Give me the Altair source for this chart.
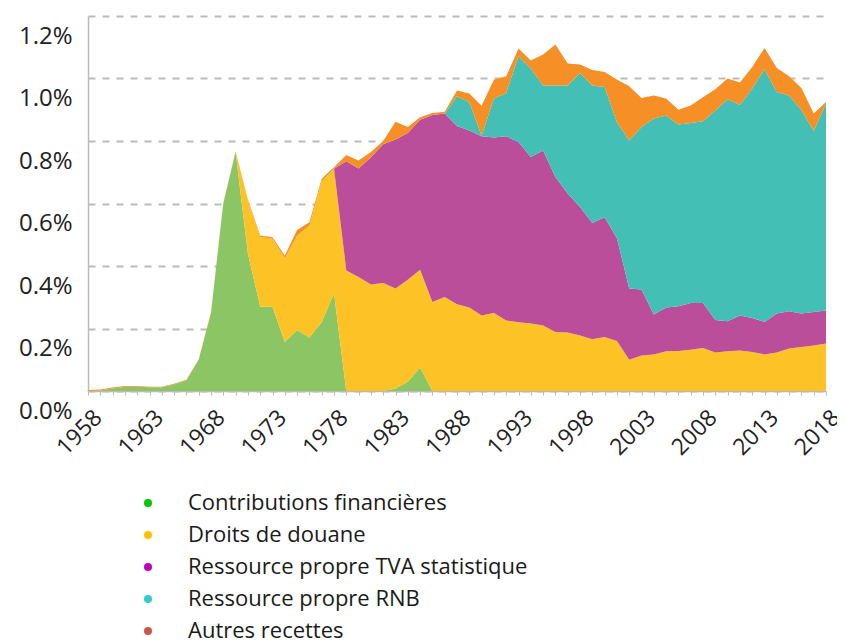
import altair as alt
import pandas as pd

years = list(range(1958, 2019))

contributions = [
    0.000, 0.002, 0.008, 0.014, 0.014, 0.012, 0.012, 0.021, 0.034, 0.100,
    0.250, 0.600, 0.765, 0.440, 0.270, 0.270, 0.157, 0.195, 0.171, 0.220,
    0.313, 0.000, 0.000, 0.000, 0.000, 0.008, 0.030, 0.075,
] + [0.0] * 33

douane = [0.0] * 13 + [
    0.170, 0.224, 0.217, 0.268, 0.302, 0.359, 0.452, 0.398, 0.386, 0.365,
    0.341, 0.346, 0.320, 0.326, 0.313, 0.285, 0.301, 0.278, 0.267, 0.242,
    0.250, 0.226, 0.220, 0.216, 0.210, 0.189, 0.187, 0.178, 0.166, 0.173,
    0.160, 0.100, 0.114, 0.117, 0.127, 0.128, 0.132, 0.138, 0.123, 0.127,
    0.130, 0.125, 0.117, 0.123, 0.136, 0.141, 0.146, 0.152,
]

tva = [0.0] * 21 + [
    0.349, 0.347, 0.407, 0.444, 0.477, 0.470, 0.480, 0.598, 0.587, 0.570,
    0.567, 0.573, 0.561, 0.589, 0.577, 0.533, 0.560, 0.496, 0.445, 0.411,
    0.372, 0.383, 0.330, 0.228, 0.211, 0.128, 0.140, 0.143, 0.150, 0.144,
    0.104, 0.096, 0.112, 0.109, 0.104, 0.125, 0.119, 0.107, 0.107, 0.106,
]

rnb = [0.0] * 30 + [
    0.095, 0.091, 0.002, 0.125, 0.139, 0.274, 0.283, 0.208, 0.293, 0.346,
    0.429, 0.440, 0.417, 0.371, 0.474, 0.520, 0.627, 0.615, 0.582, 0.576,
    0.581, 0.671, 0.711, 0.673, 0.734, 0.809, 0.709, 0.691, 0.651, 0.579,
    0.662,
]

autres = [
    0.003, 0.003, 0.003, 0.002, 0.002, 0.002, 0.002, 0.002, 0.002, 0.002,
    0.002, 0.002, 0.002, 0.003, 0.004, 0.005, 0.008, 0.018, 0.010, 0.007,
    0.005, 0.020, 0.026, 0.017, 0.010, 0.057, 0.019, 0.008, 0.007, 0.006,
    0.019, 0.027, 0.096, 0.060, 0.053, 0.025, 0.026, 0.099, 0.131, 0.070,
    0.027, 0.049, 0.048, 0.136, 0.173, 0.093, 0.074, 0.054, 0.047, 0.056,
    0.077, 0.068, 0.066, 0.072, 0.069, 0.068, 0.077, 0.061, 0.071, 0.056,
    0.005,
]

series_names = [
    "Contributions financières",
    "Droits de douane",
    "Ressource propre TVA statistique",
    "Ressource propre RNB",
    "Autres recettes",
]
area_colors = ["#8CC664", "#FCC226", "#BB4E9B", "#44BFB5", "#F58F26"]
legend_colors = ["#00C800", "#FFC000", "#C000C0", "#33CCCC", "#C8564B"]
y_ticks = [0.0, 0.2, 0.4, 0.6, 0.8, 1.0, 1.2]

rows = []
for i, (name, vals) in enumerate(zip(series_names, [contributions, douane, tva, rnb, autres])):
    for yr, v in zip(years, vals):
        rows.append({"year": yr, "value": v, "series": name, "order": i})
df = pd.DataFrame(rows)

legend_df = pd.DataFrame({"series": series_names, "color": legend_colors})

x_enc = alt.X(
    "year:Q",
    scale=alt.Scale(domain=[1958, 2018], nice=False, zero=False),
    axis=alt.Axis(
        values=years,
        labelExpr="(datum.value - 1958) % 5 == 0 ? datum.value + '' : ''",
        labelAngle=-45,
        labelAlign="right",
        labelBaseline="top",
        labelOffset=2,
        labelPadding=11,
        labelOverlap=False,
        labelFont="Open Sans",
        labelFontSize=23,
        labelColor="#222222",
        tickSize=4,
        tickColor="#BBBBBB",
        domainColor="#BBBBBB",
        domainWidth=1.5,
        grid=False,
        title=None,
    ),
)

y_enc = alt.Y(
    "value:Q",
    stack="zero",
    scale=alt.Scale(domain=[0, 1.2], nice=False),
    axis=alt.Axis(
        values=y_ticks,
        labelExpr="format(datum.value, '.1f') + '%'",
        labelFont="Open Sans",
        labelFontSize=24,
        labelColor="#222222",
        labelPadding=16,
        labelOffset=20,
        tickSize=0,
        domainColor="#BBBBBB",
        domainWidth=1.5,
        grid=True,
        gridDash=[7, 7],
        gridColor="#BBBBBB",
        gridWidth=2,
        title=None,
    ),
)

areas = (
    alt.Chart(df)
    .mark_area(interpolate="linear")
    .encode(
        x=x_enc,
        y=y_enc,
        color=alt.Color(
            "series:N",
            scale=alt.Scale(domain=series_names, range=area_colors),
            legend=None,
        ),
        order=alt.Order("order:Q"),
    )
)

# hand-made legend below the plot (dot colours differ from the area colours)
legend_y = alt.Y(
    "series:N",
    sort=series_names,
    scale=alt.Scale(type="point", domain=series_names, range=[487, 615], padding=0),
    axis=None,
)
legend_dots = (
    alt.Chart(legend_df)
    .mark_circle(size=64, opacity=1)
    .encode(x=alt.value(60), y=legend_y, color=alt.Color("color:N", scale=None))
)
legend_text = (
    alt.Chart(legend_df)
    .mark_text(align="left", baseline="middle", font="Open Sans", fontSize=22, color="#1a1a1a")
    .encode(x=alt.value(100), y=legend_y, text="series:N")
)

chart = (
    alt.layer(areas, legend_dots, legend_text)
    .resolve_scale(y="independent", color="independent")
    .properties(
        width=738,
        height=375,
        padding={"left": 80, "top": 8, "right": 11, "bottom": 250},
        autosize="none",
    )
    .configure_view(stroke=None)
)

chart.save("out.html", embed_options={"renderer": "svg", "actions": False})
